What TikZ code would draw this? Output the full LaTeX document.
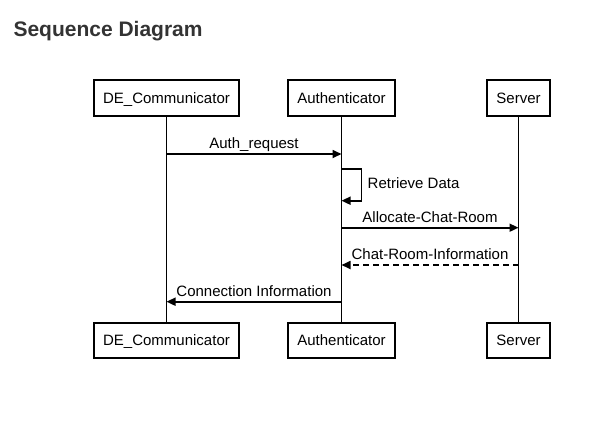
\documentclass[tikz,border=0pt]{standalone}
\usepackage{fontspec}
\setmainfont{Liberation Sans}
\usetikzlibrary{positioning,arrows.meta}
\definecolor{titlegray}{HTML}{333333}
\tikzset{
  seq/.style={x=1pt,y=-1pt,on grid,font=\fontsize{15}{18}\selectfont,
    >={Triangle[length=9pt,width=8pt]}},
  actor/.style={draw,line width=2pt,inner xsep=9.5pt,inner ysep=0pt,
    text height=12.2pt,text depth=1.8pt,minimum height=35.5pt},
  lifeline/.style={line width=1.8pt},
  msg/.style={->,line width=1.7pt},
  reply/.style={msg,dash pattern=on 6pt off 4pt},
  msglbl/.style={anchor=base,yshift=5.7pt,inner sep=0pt},
}

\begin{document}
\begin{tikzpicture}[seq]
  \useasboundingbox (0,0) rectangle (604,429);
  \node[anchor=base west,inner sep=0pt,text=titlegray,font=\fontsize{21}{25}\selectfont\bfseries]
    (title) at (13.3,36.7) {Sequence Diagram};

  % participants
  \node[actor] (deT) at (166.5,98) {DE\_Communicator};
  \node[actor] (auT) [right=175pt of deT] {Authenticator};
  \node[actor] (svT) [right=177pt of auT] {Server};
  \node[actor] (deB) [below=242.4pt of deT] {DE\_Communicator};
  \node[actor] (auB) [below=242.4pt of auT] {Authenticator};
  \node[actor] (svB) [below=242.4pt of svT] {Server};

  \draw[lifeline] (deT) -- (deB);
  \draw[lifeline] (auT) -- (auB);
  \draw[lifeline] (svT) -- (svB);

  % message heights
  \coordinate (m1) at (0,154);
  \coordinate (r1) at (0,169);
  \coordinate (r2) at (0,200.7);
  \coordinate (m3) at (0,227.7);
  \coordinate (m4) at (0,265);
  \coordinate (m5) at (0,301.7);

  \draw[msg] (deT |- m1) -- node[msglbl]{Auth\_request} (auT |- m1);
  \draw[msg] (auT |- r1) -- ++(20,0) |- node[pos=0.25,right=2pt,yshift=1.5pt]{Retrieve Data} (auT |- r2);
  \draw[msg] (auT |- m3) -- node[msglbl]{Allocate-Chat-Room} (svT |- m3);
  \draw[reply] (svT |- m4) -- node[msglbl]{Chat-Room-Information} (auT |- m4);
  \draw[msg] (auT |- m5) -- node[msglbl]{Connection Information} (deT |- m5);
\end{tikzpicture}
\end{document}
